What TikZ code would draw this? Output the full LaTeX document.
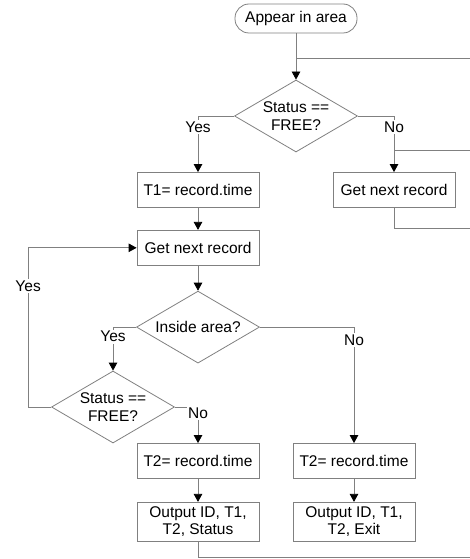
\documentclass[tikz,border=0pt]{standalone}
\usepackage{fontspec}
\setmainfont{Liberation Sans}
\usepackage{xcolor}
\usepackage{tikz}
\usetikzlibrary{
  arrows.meta,
  calc,
  positioning,
  shapes.geometric
}
\definecolor{linegray}{RGB}{128,128,128}
\tikzset{
  chart/.style={ font=\fontsize{15.5}{18}\selectfont },
  terminal/.style={
    rounded corners=14pt,
    draw=linegray,
    fill=white,
    line width=0.8pt,
    minimum width=122pt,
    minimum height=29pt,
    inner sep=2pt
  },
  process/.style={
    draw=linegray,
    fill=white,
    line width=0.8pt,
    minimum width=122pt,
    minimum height=35pt,
    align=center,
    inner sep=3pt
  },
  decision/.style={
    diamond,
    aspect=1.7,
    draw=linegray,
    fill=white,
    line width=0.8pt,
    minimum width=123pt,
    minimum height=72pt,
    align=center,
    inner sep=-1pt
  },
  link/.style={
    line width=0.8pt,
    draw=linegray
  },
  flow/.style={
    link,
    -{Triangle[length=8pt,width=8.5pt,color=black]}
  },
  lbl/.style={ fill=white, inner sep=1.5pt }
}

\begin{document}
\begin{tikzpicture}[chart, x=1pt, y=1pt, node distance=22pt]
  \useasboundingbox (0,0) rectangle (470,-559);
  \coordinate (rim) at (470,0);

  \node[terminal] (appear) at (296,-18.5) {Appear in area};
  \node[decision] (free1) at (296,-116) {Status ==\\FREE?};
  \node[process] (stamp1) at (198,-190) {T1= record.time};
  \node[process] (skip) at (394,-190) {Get next record};
  \node[process, below=of stamp1] (next) {Get next record};
  \node[decision, below=25pt of next] (inside) {Inside area?};
  \node[decision] (free2) at (113,-407) {Status ==\\FREE?};
  \node[process] (stamp2) at (198,-461) {T2= record.time};
  \node[process] (stamp3) at (354,-461) {T2= record.time};
  \node[process, below=23pt of stamp2, minimum height=39pt] (outstatus)
    {Output ID, T1,\\[-1.3pt] T2, Status};
  \node[process, below=23pt of stamp3, minimum height=39pt] (outexit)
    {Output ID, T1,\\[-1.3pt] T2, Exit};

  \coordinate (join1) at (296,-58);
  \coordinate (join2) at (394,-150);
  \coordinate (tail1) at (470,-228);
  \coordinate (tail2) at (470,-557);

  \draw[flow] (appear) -- (free1);
  \draw[link] (join1) -- (join1 -| rim);
  \draw[flow] (free1.west) -| node[lbl, pos=0.6] {Yes} (stamp1.north);
  \draw[flow] (free1.east) -| node[lbl, pos=0.6] {No} (skip.north);
  \draw[link] (join2) -- (join2 -| rim);
  \draw[link] (skip.south) |- (tail1);
  \draw[flow] (stamp1) -- (next);
  \draw[flow] (next) -- (inside);
  \draw[flow] (inside.west) -| node[lbl, pos=0.61] {Yes} (free2.north);
  \draw[flow] (inside.east) -| node[lbl, pos=0.555] {No} (stamp3.north);
  \draw[flow] (free2.west) -- ++(-23,0) |- node[lbl, pos=0.38] {Yes} (next.west);
  \draw[flow] (free2.east) -| node[lbl, pos=0.58] {No} (stamp2.north);
  \draw[flow] (stamp2) -- (outstatus);
  \draw[flow] (stamp3) -- (outexit);
  \draw[link] (outstatus.south) |- (tail2);
\end{tikzpicture}
\end{document}
